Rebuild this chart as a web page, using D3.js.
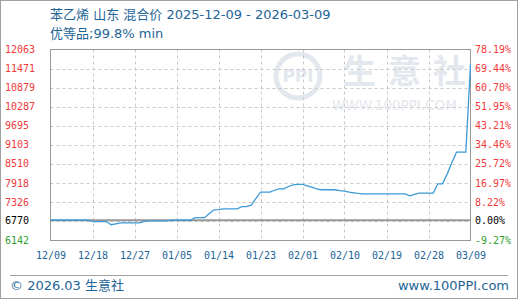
<!DOCTYPE html>
<html>
<head>
<meta charset="utf-8">
<script src="https://cdn.jsdelivr.net/npm/d3@7"></script>
<style>
  html, body { margin: 0; padding: 0; background: #fff; }
  svg { display: block; }
</style>
</head>
<body>
<svg id="chart" width="520" height="300"></svg>
<script>
// ---- data ----
const dates = [
  "2025-12-09","2025-12-17","2025-12-18","2025-12-21","2025-12-22","2025-12-23","2025-12-24",
  "2025-12-28","2025-12-29","2025-12-30","2026-01-03","2026-01-04","2026-01-08","2026-01-09",
  "2026-01-11","2026-01-12","2026-01-13","2026-01-14","2026-01-15","2026-01-18","2026-01-19",
  "2026-01-20","2026-01-21","2026-01-22","2026-01-23","2026-01-25","2026-01-26","2026-01-27",
  "2026-01-28","2026-01-29","2026-01-30","2026-01-31","2026-02-01","2026-02-02","2026-02-03",
  "2026-02-04","2026-02-05","2026-02-08","2026-02-09","2026-02-10","2026-02-11","2026-02-12",
  "2026-02-13","2026-02-14","2026-02-23","2026-02-24","2026-02-25","2026-02-26","2026-03-01",
  "2026-03-02","2026-03-03","2026-03-04","2026-03-05","2026-03-06","2026-03-07","2026-03-08",
  "2026-03-09"
];
const prices = [
  6770, 6770, 6730, 6730, 6630, 6660, 6690,
  6690, 6730, 6750, 6750, 6770, 6770, 6850,
  6850, 6970, 7094, 7100, 7120, 7120, 7190,
  7195, 7240, 7440, 7640, 7640, 7700, 7745,
  7745, 7816, 7869, 7880, 7880, 7838, 7795,
  7745, 7715, 7715, 7690, 7670, 7640, 7620,
  7600, 7590, 7590, 7527, 7570, 7610, 7610,
  7900, 7900, 8200, 8550, 8880, 8880, 8880,
  11600
];
const baseValue = 6770;
const yTickValues = [12063, 11471, 10879, 10287, 9695, 9103, 8510, 7918, 7326, 6770, 6142];
const pctLabels = ["78.19%","69.44%","60.70%","51.95%","43.21%","34.46%","25.72%","16.97%","8.22%","0.00%","-9.27%"];
const xTickLabels = ["12/09","12/18","12/27","01/05","01/14","01/23","02/01","02/10","02/19","02/28","03/09"];
const xTickDates = ["2025-12-09","2025-12-18","2025-12-27","2026-01-05","2026-01-14","2026-01-23","2026-02-01","2026-02-10","2026-02-19","2026-02-28","2026-03-09"];
const titleLine1 = "苯乙烯 山东 混合价 2025-12-09 - 2026-03-09";
const titleLine2 = "优等品;99.8% min";

// ---- drawing ----
const parse = d3.timeParse("%Y-%m-%d");
const svg = d3.select("#chart");
const L = 50.5, R = 470.5, T = 49.5, B = 240.5;
const yMin = 6142, yMax = 12063;

const x = d3.scaleTime().domain([parse(dates[0]), parse(dates[dates.length-1])]).range([L, R]);
const y = d3.scaleLinear().domain([yMin, yMax]).range([B, T]);

const monoFont = "'DejaVu Sans Mono', 'Liberation Mono', monospace";
const textFont = "'DejaVu Sans', 'Noto Sans CJK SC', sans-serif";
const blueText = "#1e6496";

// outer border
svg.append("rect").attr("x", 0.5).attr("y", 0.5).attr("width", 517).attr("height", 298)
  .attr("fill", "#fff").attr("stroke", "#a0a0a0");

// watermark
const wmColor = "#e3e7ee";
const wm = svg.append("g").attr("fill", wmColor);
wm.append("circle").attr("cx", 298).attr("cy", 76).attr("r", 22).attr("fill", "none")
  .attr("stroke", wmColor).attr("stroke-width", 5);
wm.append("text").attr("x", 298).attr("y", 82).attr("text-anchor", "middle")
  .attr("font-family", textFont).attr("font-weight", "bold").attr("font-size", 17).text("PPI");
wm.append("text").attr("x", 343).attr("y", 83).attr("font-family", "'Noto Sans CJK SC', sans-serif")
  .attr("font-weight", "bold").attr("font-size", 33).attr("letter-spacing", 12).text("生意社");
wm.append("text").attr("x", 332).attr("y", 110).attr("font-family", textFont)
  .attr("font-size", 13.5).text("WWW.100PPI.COM");

// gridlines
const gridVals = d3.range(1, 10).map(k => yMin + k * (yMax - yMin) / 10);
svg.append("g").selectAll("line").data(gridVals).join("line")
  .attr("x1", L).attr("x2", R)
  .attr("y1", d => Math.round(y(d)) + 0.5).attr("y2", d => Math.round(y(d)) + 0.5)
  .attr("stroke", "#c8c8c8").attr("stroke-dasharray", "3,3");
svg.append("g").selectAll("line").data(xTickDates.slice(1, -1)).join("line")
  .attr("x1", d => Math.round(x(parse(d))) + 0.5).attr("x2", d => Math.round(x(parse(d))) + 0.5)
  .attr("y1", T).attr("y2", B)
  .attr("stroke", "#c8c8c8").attr("stroke-dasharray", "3,3");

// base line
svg.append("line").attr("x1", L).attr("x2", R)
  .attr("y1", y(baseValue)).attr("y2", y(baseValue))
  .attr("stroke", "#999").attr("stroke-width", 2);

// frame
svg.append("rect").attr("x", L).attr("y", T).attr("width", R - L).attr("height", B - T)
  .attr("fill", "none").attr("stroke", "#999");

// line
const line = d3.line().x((d, i) => x(parse(dates[i]))).y(d => y(d));
svg.append("path").datum(prices).attr("d", line)
  .attr("fill", "none").attr("stroke", "#3d9ad6").attr("stroke-width", 1.3);

// colour helper
const labColor = v => v > baseValue ? "#f23a3a" : (v === baseValue ? "#000" : "#2ea02e");

// left axis
const left = svg.append("g").attr("transform", "translate(5,0)")
  .call(d3.axisRight(y).tickValues(yTickValues).tickSize(0).tickPadding(0).tickFormat(d3.format("d")));
left.select(".domain").remove();
left.selectAll("text").attr("font-family", monoFont).attr("font-size", 10)
  .attr("fill", d => labColor(d)).attr("dy", "0.28em");

// right axis
const right = svg.append("g").attr("transform", "translate(475,0)")
  .call(d3.axisRight(y).tickValues(yTickValues).tickSize(0).tickPadding(0).tickFormat((d, i) => pctLabels[i]));
right.select(".domain").remove();
right.selectAll("text").attr("font-family", monoFont).attr("font-size", 10)
  .attr("fill", d => labColor(d)).attr("dy", "0.28em");

// bottom axis
const bottom = svg.append("g").attr("transform", "translate(0,250)")
  .call(d3.axisBottom(x).tickValues(xTickDates.map(parse)).tickSize(0).tickPadding(2)
    .tickFormat((d, i) => xTickLabels[i]));
bottom.select(".domain").remove();
bottom.selectAll("text").attr("font-family", monoFont).attr("font-size", 10).attr("fill", blueText);

// titles
svg.append("text").attr("x", 50).attr("y", 19).attr("font-family", textFont)
  .attr("font-size", 13).attr("fill", blueText).text(titleLine1);
svg.append("text").attr("x", 50).attr("y", 38).attr("font-family", textFont)
  .attr("font-size", 13).attr("fill", blueText).text(titleLine2);

// footer
svg.append("line").attr("x1", 10).attr("x2", 508).attr("y1", 275.5).attr("y2", 275.5)
  .attr("stroke", "#a0a0a0");
svg.append("text").attr("x", 10).attr("y", 290).attr("font-family", textFont)
  .attr("font-size", 13).attr("fill", blueText).text("© 2026.03 生意社");
svg.append("text").attr("x", 509).attr("y", 290).attr("text-anchor", "end").attr("font-family", textFont)
  .attr("font-size", 13).attr("fill", blueText).text("www.100PPI.com");
</script>
</body>
</html>
